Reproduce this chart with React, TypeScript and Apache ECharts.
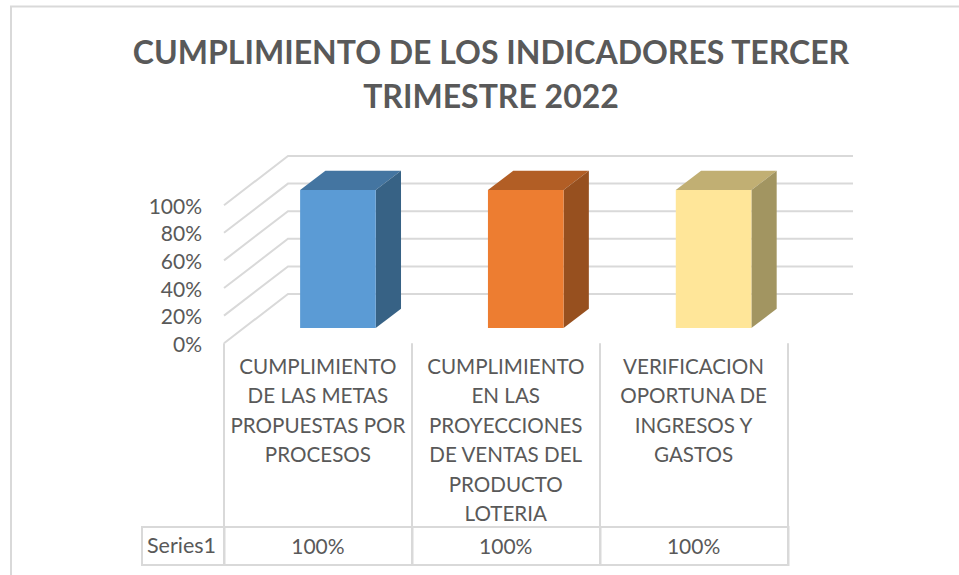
import React, { useEffect, useRef } from "react";
import * as echarts from "echarts";

const titleText = "CUMPLIMIENTO DE LOS INDICADORES TERCER\nTRIMESTRE 2022";
const categories = [
  "CUMPLIMIENTO\nDE LAS METAS\nPROPUESTAS POR\nPROCESOS",
  "CUMPLIMIENTO\nEN LAS\nPROYECCIONES\nDE VENTAS DEL\nPRODUCTO\nLOTERIA",
  "VERIFICACION\nOPORTUNA DE\nINGRESOS Y\nGASTOS",
];
const values = [1, 1, 1];
const ticks = [0, 0.2, 0.4, 0.6, 0.8, 1];
const seriesName = "Series1";
const frontColors = ["#5B9BD5", "#ED7D31", "#FFE699"];
const topColors = ["#4475A1", "#B25E25", "#C1AF73"];
const sideColors = ["#376285", "#97501F", "#A29561"];

const FONT = "Lato, 'Open Sans', sans-serif";
const TEXT = "#595959";
const LINE = "#D9D9D9";
const pct = (v: number) => `${Math.round(v * 100)}%`;

export default function App() {
  const ref = useRef<HTMLDivElement>(null);
  useEffect(() => {
    document.body.style.margin = "0";
    const chart = echarts.init(ref.current!, null, { renderer: "svg" });
    const lineStyle = { stroke: LINE, lineWidth: 2, fill: "none" };
    chart.setOption({
      animation: false,
      backgroundColor: "#fff",
      title: {
        text: titleText,
        left: 486,
        top: 24,
        textAlign: "center",
        textStyle: { fontFamily: FONT, fontWeight: "bold", fontSize: 32, lineHeight: 44, color: TEXT },
      },
      grid: { left: 224, right: 171.5, top: 205.2, bottom: 231.8 },
      xAxis: {
        type: "category",
        data: categories,
        axisLine: { show: false },
        axisTick: { show: true, length: 222, alignWithLabel: false, lineStyle: { color: LINE, width: 2 } },
        axisLabel: {
          interval: 0,
          margin: 8,
          fontFamily: FONT,
          fontSize: 20.6,
          lineHeight: 29.5,
          color: TEXT,
          align: "center",
          verticalAlign: "top",
        },
      },
      yAxis: {
        type: "value",
        min: 0,
        max: 1,
        interval: 0.2,
        splitLine: { show: false },
        axisLine: { show: false },
        axisTick: { show: false },
        axisLabel: { margin: 22, fontFamily: FONT, fontSize: 21, color: TEXT, formatter: (v: number) => pct(v) },
      },
      graphic: [
        { type: "polyline", silent: true, shape: { points: [[959, 6.5], [11, 6.5], [11, 575]] }, style: lineStyle },
        { type: "polyline", silent: true, shape: { points: [[224.5, 527], [142, 527], [142, 565], [788.5, 565], [788.5, 527], [224.5, 527]] }, style: lineStyle },
        { type: "line", silent: true, shape: { x1: 224.5, y1: 527, x2: 224.5, y2: 565 }, style: lineStyle },
        { type: "line", silent: true, shape: { x1: 412.5, y1: 527, x2: 412.5, y2: 565 }, style: lineStyle },
        { type: "line", silent: true, shape: { x1: 600.5, y1: 527, x2: 600.5, y2: 565 }, style: lineStyle },
        { type: "text", silent: true, style: { text: seriesName, x: 147, y: 545, verticalAlign: "middle", fontFamily: FONT, fontSize: 21.5, fill: TEXT } },
      ],
      series: [
        {
          type: "custom",
          coordinateSystem: "cartesian2d",
          silent: true,
          z: 1,
          data: ticks.map((t) => [0, t]),
          renderItem: (params: any, api: any) => {
            const cs = params.coordSys;
            const y = api.coord([0, api.value(1)])[1];
            return {
              type: "polyline",
              shape: { points: [[cs.x, y], [cs.x + 64, y - 49.2], [853, y - 49.2]] },
              style: { stroke: LINE, lineWidth: 2, fill: "none" },
            };
          },
        },
        {
          type: "custom",
          coordinateSystem: "cartesian2d",
          silent: true,
          z: 2,
          data: values.map((v, i) => [i, v]),
          renderItem: (params: any, api: any) => {
            const i = params.dataIndex;
            const [cx, yTop0] = api.coord([i, api.value(1)]);
            const y0 = api.coord([i, 0])[1];
            const xl = cx + 20 - 37.8;
            const xr = xl + 75.6;
            const top = yTop0 - 15.2;
            const bot = y0 - 15.2;
            const dx = 25.3;
            const dy = 19.3;
            return {
              type: "group",
              children: [
                { type: "polygon", shape: { points: [[xl, top], [xr, top], [xr + dx, top - dy], [xl + dx, top - dy]] }, style: { fill: topColors[i] } },
                { type: "polygon", shape: { points: [[xr, top], [xr + dx, top - dy], [xr + dx, bot - dy], [xr, bot]] }, style: { fill: sideColors[i] } },
                { type: "rect", shape: { x: xl, y: top, width: xr - xl, height: bot - top }, style: { fill: frontColors[i] } },
                {
                  type: "text",
                  style: { text: pct(api.value(1)), x: cx, y: 545, align: "center", verticalAlign: "middle", fontFamily: FONT, fontSize: 21, fill: TEXT },
                },
              ],
            };
          },
        },
      ],
    });
    return () => chart.dispose();
  }, []);
  return <div ref={ref} style={{ position: "fixed", left: 0, top: 0, width: 959, height: 575 }} />;
}
